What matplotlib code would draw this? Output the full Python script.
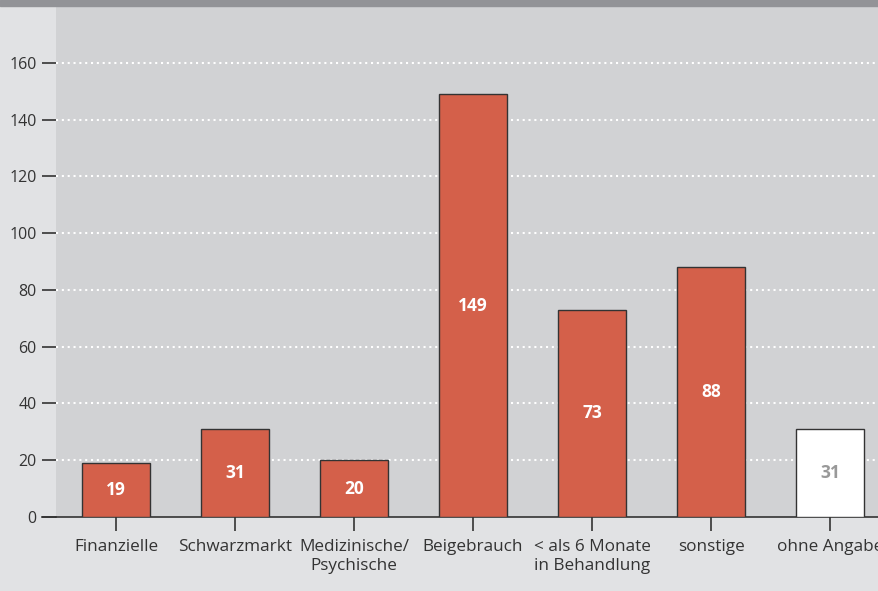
import matplotlib.pyplot as plt
from matplotlib.lines import Line2D
from matplotlib.patches import Rectangle

plt.rcParams['font.family'] = ['Open Sans', 'DejaVu Sans']

categories = ["Finanzielle", "Schwarzmarkt", "Medizinische/\nPsychische", "Beigebrauch",
              "< als 6 Monate\nin Behandlung", "sonstige", "ohne Angabe"]
values = [19, 31, 20, 149, 73, 88, 31]
barColors = ["#d4604a"] * 6 + ["#ffffff"]
labelColors = ["#ffffff"] * 6 + ["#999999"]
yticks = [0, 20, 40, 60, 80, 100, 120, 140, 160]

figColor = "#e1e2e4"
axColor = "#d1d2d4"
textColor = "#333333"

fig = plt.figure(figsize=(8.79, 5.91), dpi=100, facecolor=figColor)
ax = fig.add_axes([56 / 879, 1 - 517 / 591, 1 - 56 / 879, (517 - 6) / 591])
ax.set_facecolor(axColor)

# gray band on top
fig.patches.append(Rectangle((0, 1 - 6 / 591), 1, 6 / 591, transform=fig.transFigure,
                             color="#929397", zorder=0))

x = range(len(values))
ax.bar(x, values, width=0.57, color=barColors, edgecolor="#333333", linewidth=1, zorder=3)
for i, v in enumerate(values):
    ax.text(i, v / 2, str(v), ha="center", va="center", color=labelColors[i],
            fontsize=12.5, fontweight="bold", zorder=4)

ax.set_xlim(-0.504, 6.41)
ax.set_ylim(0, 180)
ax.set_yticks(yticks)
ax.set_xticks(list(x))
ax.set_xticklabels(categories, fontsize=12.3, color=textColor, linespacing=1.2)
ax.tick_params(axis="y", length=10, width=1.2, color="#333333", labelsize=11.5,
               labelcolor=textColor, pad=4)
ax.tick_params(axis="x", length=10, width=1.2, color="#333333", pad=6)

for y in yticks[1:]:
    ax.axhline(y, color="white", linestyle=(0, (1, 1.8)), linewidth=1.5, zorder=1)

for s in ["top", "right", "left"]:
    ax.spines[s].set_visible(False)
ax.spines["bottom"].set_color("#333333")
ax.spines["bottom"].set_linewidth(1.2)

# zero line extends to the left of the axes
fig.lines.append(Line2D([42 / 879, 56 / 879], [1 - 517 / 591] * 2, transform=fig.transFigure,
                        color="#333333", linewidth=1.2))

fig.savefig("out.png", dpi=100, facecolor=figColor)
